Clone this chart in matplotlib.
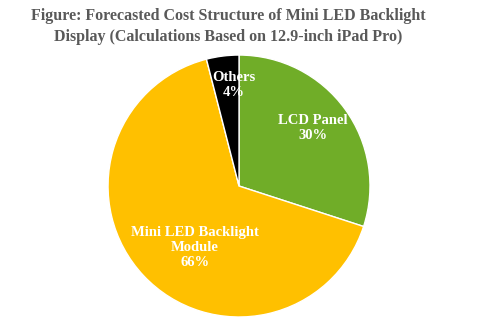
import matplotlib.pyplot as plt
import numpy as np

labels = ['LCD Panel', 'Mini LED Backlight\nModule', 'Others']
shares = [30, 66, 4]
colors = ['#70AD28', '#FFC000', '#000000']

label_r = [0.715, 0.58, 0.77]
label_shift = [2, 11, -4]

fig = plt.figure(figsize=(4.79, 3.23), dpi=100)
ax = fig.add_axes([0.2255, 0.0186, 0.547, 0.811])

wedges, _ = ax.pie(shares, colors=colors, startangle=90, counterclock=False,
                   wedgeprops=dict(edgecolor='white', linewidth=1.0))
ax.set_xlim(-1, 1)
ax.set_ylim(-1, 1)

for w, lab, val, r, sh in zip(wedges, labels, shares, label_r, label_shift):
	ang = np.deg2rad((w.theta1 + w.theta2) / 2 + sh)
	ax.text(r*np.cos(ang), r*np.sin(ang), '%s\n%d%%' % (lab, val),
	        ha='center', va='center', color='white', fontsize=10.5,
	        fontweight='bold', family='Liberation Serif', linespacing=1.2)

fig.text(0.477, 0.918, 'Figure: Forecasted Cost Structure of Mini LED Backlight\nDisplay (Calculations Based on 12.9-inch iPad Pro)',
         ha='center', va='center', color='#595959', fontsize=11.5,
         fontweight='bold', family='Liberation Serif', linespacing=1.4)

fig.savefig('out.png', dpi=100)
